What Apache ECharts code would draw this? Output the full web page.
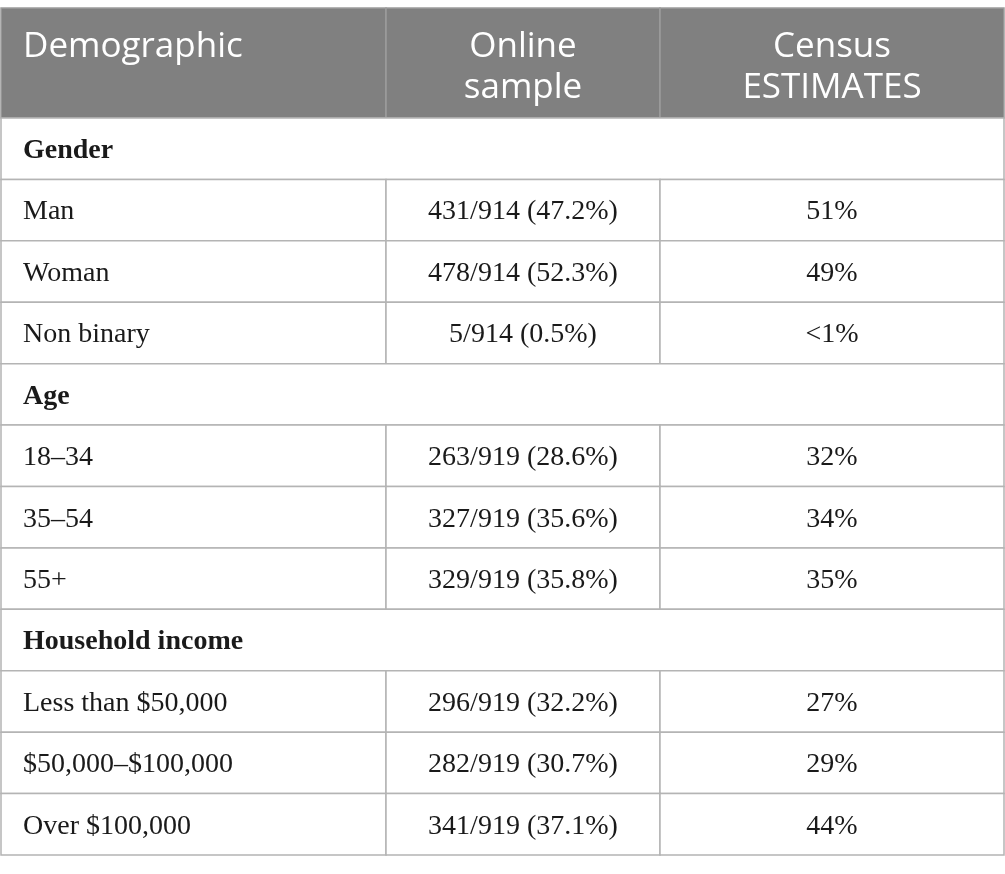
<!DOCTYPE html>
<html>
<head>
<meta charset="utf-8">
<script src="https://cdn.jsdelivr.net/npm/echarts@6/dist/echarts.min.js"></script>
<style>
  html, body { margin: 0; padding: 0; background: #fff; }
  #main { width: 1005px; height: 874px; }
</style>
</head>
<body>
<div id="main"></div>
<script>
// table content
const columns = ['Demographic', 'Online\nsample', 'Census\nESTIMATES'];
const sections = ['Gender', 'Age', 'Household income'];
const demographic = ['Man', 'Woman', 'Non binary', '18–34', '35–54', '55+',
  'Less than $50,000', '$50,000–$100,000', 'Over $100,000'];
const rowSection = [0, 0, 0, 1, 1, 1, 2, 2, 2];
const sampleCount = [431, 478, 5, 263, 327, 329, 296, 282, 341];
const sampleTotal = [914, 914, 914, 919, 919, 919, 919, 919, 919];
const samplePct = [47.2, 52.3, 0.5, 28.6, 35.6, 35.8, 32.2, 30.7, 37.1];
const censusPct = ['51%', '49%', '<1%', '32%', '34%', '35%', '27%', '29%', '44%'];

// column edges along the x axis
const colEdges = [0, 385, 659, 1003];

const HEAD_FONT = '"Open Sans", Lato, sans-serif';
const BODY_FONT = '"Liberation Serif", "DejaVu Serif", serif';
const LINE = '#b4b4b4';

// build rows: a section row followed by its demographic rows
const rows = [];
sections.forEach((s, si) => {
  rows.push({ section: s });
  demographic.forEach((d, i) => {
    if (rowSection[i] !== si) return;
    rows.push({
      cells: [d, sampleCount[i] + '/' + sampleTotal[i] + ' (' + samplePct[i].toFixed(1) + '%)', censusPct[i]]
    });
  });
});

const cells = [];
rows.forEach((r, ri) => {
  if (r.section) {
    cells.push({ row: ri, c0: 0, c1: 3, text: r.section, bold: true, align: 'left' });
  } else {
    r.cells.forEach((t, ci) => {
      cells.push({ row: ri, c0: ci, c1: ci + 1, text: t, bold: false, align: ci === 0 ? 'left' : 'center' });
    });
  }
});

const chart = echarts.init(document.getElementById('main'), null, { renderer: 'canvas' });

const renderHead = (params, api) => {
  const col = params.dataIndex;
  const x0 = api.coord([colEdges[col], 0])[0];
  const x1 = api.coord([colEdges[col + 1], 0])[0];
  const yc = api.coord([0, 0])[1];
  const h = api.size([0, 1])[1];
  const top = yc - h / 2;
  return {
    type: 'group',
    children: [
      {
        type: 'rect',
        shape: { x: x0, y: top, width: x1 - x0, height: h },
        style: { fill: '#808080', stroke: '#9c9c9c', lineWidth: 1.5 }
      },
      {
        type: 'text',
        x: col === 0 ? x0 + 22 : (x0 + x1) / 2,
        y: top + 19,
        style: {
          text: columns[col],
          fill: '#ffffff',
          fontFamily: HEAD_FONT,
          fontSize: 35,
          lineHeight: 41,
          align: col === 0 ? 'left' : 'center',
          verticalAlign: 'top'
        }
      }
    ]
  };
};

const renderBody = (params, api) => {
  const c = cells[params.dataIndex];
  const x0 = api.coord([colEdges[c.c0], c.row])[0];
  const x1 = api.coord([colEdges[c.c1], c.row])[0];
  const yc = api.coord([0, c.row])[1];
  const h = api.size([0, 1])[1];
  return {
    type: 'group',
    children: [
      {
        type: 'rect',
        shape: { x: x0, y: yc - h / 2, width: x1 - x0, height: h },
        style: { fill: '#ffffff', stroke: LINE, lineWidth: 1.5 }
      },
      {
        type: 'text',
        x: c.align === 'left' ? x0 + 22 : (x0 + x1) / 2,
        y: yc + 2,
        style: {
          text: c.text,
          fill: '#1a1a1a',
          fontFamily: BODY_FONT,
          fontSize: 28,
          fontWeight: c.bold ? 'bold' : 'normal',
          align: c.align,
          verticalAlign: 'middle'
        }
      }
    ]
  };
};

chart.setOption({
  animation: false,
  grid: [
    { left: 1, width: 1003, top: 8, height: 110 },
    { left: 1, width: 1003, top: 118, height: 737 }
  ],
  xAxis: [
    { type: 'value', gridIndex: 0, min: 0, max: 1003, show: false },
    { type: 'value', gridIndex: 1, min: 0, max: 1003, show: false }
  ],
  yAxis: [
    { type: 'category', gridIndex: 0, data: ['head'], show: false },
    { type: 'category', gridIndex: 1, data: rows.map((r, i) => i), inverse: true, show: false }
  ],
  series: [
    {
      type: 'custom',
      xAxisIndex: 0,
      yAxisIndex: 0,
      renderItem: renderHead,
      encode: { x: 0, y: 1 },
      data: columns.map((c, i) => [colEdges[i], 0])
    },
    {
      type: 'custom',
      xAxisIndex: 1,
      yAxisIndex: 1,
      renderItem: renderBody,
      encode: { x: 0, y: 1 },
      data: cells.map((c) => [colEdges[c.c0], c.row])
    }
  ]
});
</script>
</body>
</html>
